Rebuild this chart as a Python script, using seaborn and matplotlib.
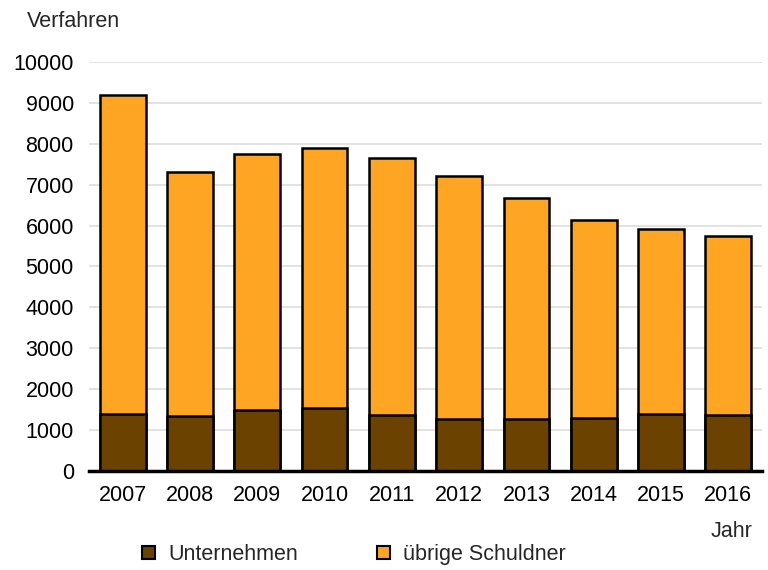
import numpy as np
import pandas as pd
import seaborn as sns
import matplotlib.pyplot as plt
from matplotlib.patches import Patch

years = ["2007", "2008", "2009", "2010", "2011", "2012", "2013", "2014", "2015", "2016"]
unternehmen = [1400, 1350, 1480, 1545, 1375, 1270, 1260, 1290, 1385, 1355]
gesamt = [9205, 7320, 7740, 7890, 7655, 7220, 6680, 6140, 5920, 5740]

ORANGE = "#FEA623"
BROWN = "#6B4200"
FS = 15.5

df = pd.DataFrame({"Jahr": years, "Unternehmen": unternehmen, "Gesamt": gesamt})

sns.set_style("white")
plt.rcParams["font.family"] = ["Liberation Sans", "DejaVu Sans"]

fig = plt.figure(figsize=(7.68, 5.70), dpi=100)
ax = fig.add_axes([0.116, 0.174, 0.876, 0.717])

# total bars first (orange), company share drawn over them (brown)
sns.barplot(data=df, x="Jahr", y="Gesamt", color=ORANGE, saturation=1,
            width=0.68, edgecolor="black", linewidth=1.8, ax=ax, zorder=3)
sns.barplot(data=df, x="Jahr", y="Unternehmen", color=BROWN, saturation=1,
            width=0.68, edgecolor="black", linewidth=1.8, ax=ax, zorder=4)

ax.set_ylim(0, 10000)
ax.set_yticks(np.arange(0, 10001, 1000))
ax.yaxis.grid(True, color="#DDDDDD", linewidth=1.2, zorder=0)
ax.set_axisbelow(True)
for s in ["left", "right", "top"]:
    ax.spines[s].set_visible(False)
ax.spines["bottom"].set_color("black")
ax.spines["bottom"].set_linewidth(2.5)
ax.spines["bottom"].set_zorder(5)
ax.tick_params(axis="both", length=0, labelsize=FS, colors="black")
ax.tick_params(axis="x", pad=10)
ax.tick_params(axis="y", pad=11)
ax.set_xlabel("")
ax.set_ylabel("")

fig.text(0.035, 0.962, "Verfahren", fontsize=FS, ha="left", va="center")
fig.text(0.98, 0.068, "Jahr", fontsize=FS, ha="right", va="center")

handles = [Patch(facecolor=BROWN, edgecolor="black", linewidth=1.5),
           Patch(facecolor=ORANGE, edgecolor="black", linewidth=1.5)]
fig.legend(handles, ["Unternehmen", "übrige Schuldner"], ncol=2, frameon=False,
           loc="center left", bbox_to_anchor=(0.185, 0.027), fontsize=FS,
           borderpad=0, borderaxespad=0,
           handlelength=0.6, handleheight=0.6, handletextpad=0.6, columnspacing=3.7)

fig.savefig("out.png", dpi=100)
